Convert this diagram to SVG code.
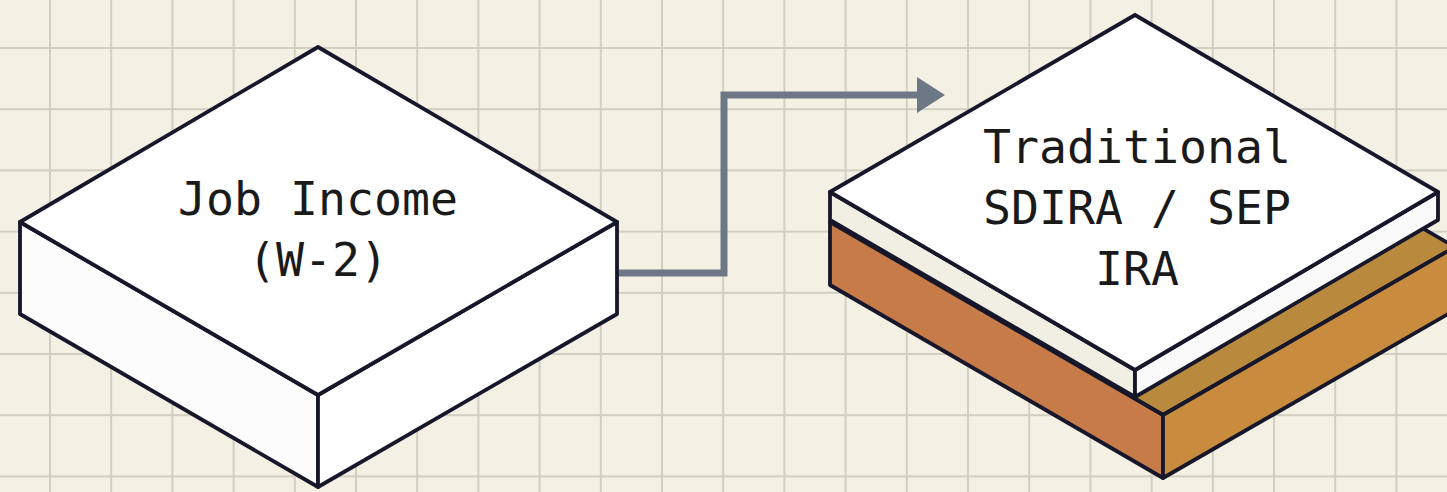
<svg xmlns="http://www.w3.org/2000/svg" width="1447" height="492" viewBox="0 0 1447 492">
  <defs>
    <pattern id="grid" x="19.4" y="17.4" width="61.2" height="61.2" patternUnits="userSpaceOnUse">
      <path d="M30.6 0V61.2M0 30.6H61.2" stroke="#d2cec2" stroke-width="2" fill="none"/>
    </pattern>
    <marker id="arrow" viewBox="0 0 28 36" markerWidth="28" markerHeight="36" refX="1" refY="18" orient="auto" markerUnits="userSpaceOnUse">
      <path d="M0 0L28 18L0 36Z" fill="#6d7886"/>
    </marker>
    <style>
      .edge { stroke: #17172b; stroke-width: 3.8; stroke-linejoin: round; }
      .label { font-family: "DejaVu Sans Mono", "Liberation Mono", monospace; font-size: 46.5px; fill: #1a1a1a; text-anchor: middle; }
      .conn { fill: none; stroke: #6d7886; stroke-width: 7; }
    </style>
  </defs>
  <rect width="1447" height="492" fill="#f4f0e3"/>
  <rect width="1447" height="492" fill="url(#grid)"/>

  <g id="connectors">
    <path class="conn" d="M617 273H724V95H918" marker-end="url(#arrow)"/>
  </g>

  <g id="node-job-income">
    <path class="edge" d="M20 222L318 395L318 487L20 314Z" fill="#fcfcfd"/>
    <path class="edge" d="M617 222L617 314L318 487L318 395Z" fill="#ffffff"/>
    <path class="edge" d="M318 47L617 222L318 395L20 222Z" fill="#ffffff"/>
    <text class="label" x="318" y="215">Job Income</text>
    <text class="label" x="318" y="276">(W-2)</text>
  </g>

  <g id="node-traditional-ira">
    <path class="edge" d="M1121 54L1455 247L1163 415L830 222Z" fill="#b98a3e"/>
    <path class="edge" d="M830 222L1163 415L1163 478L830 285Z" fill="#c67b48"/>
    <path class="edge" d="M1163 415L1455 247L1455 310L1163 478Z" fill="#c98c3f"/>
    <path class="edge" d="M830 192L1135 370L1135 397L830 220Z" fill="#f1eee4"/>
    <path class="edge" d="M1135 370L1438 192L1438 220L1135 397Z" fill="#fafafa"/>
    <path class="edge" d="M1135 15L1438 192L1135 370L830 192Z" fill="#ffffff"/>
    <text class="label" x="1137" y="163">Traditional</text>
    <text class="label" x="1137" y="224">SDIRA / SEP</text>
    <text class="label" x="1137" y="285">IRA</text>
  </g>
</svg>
